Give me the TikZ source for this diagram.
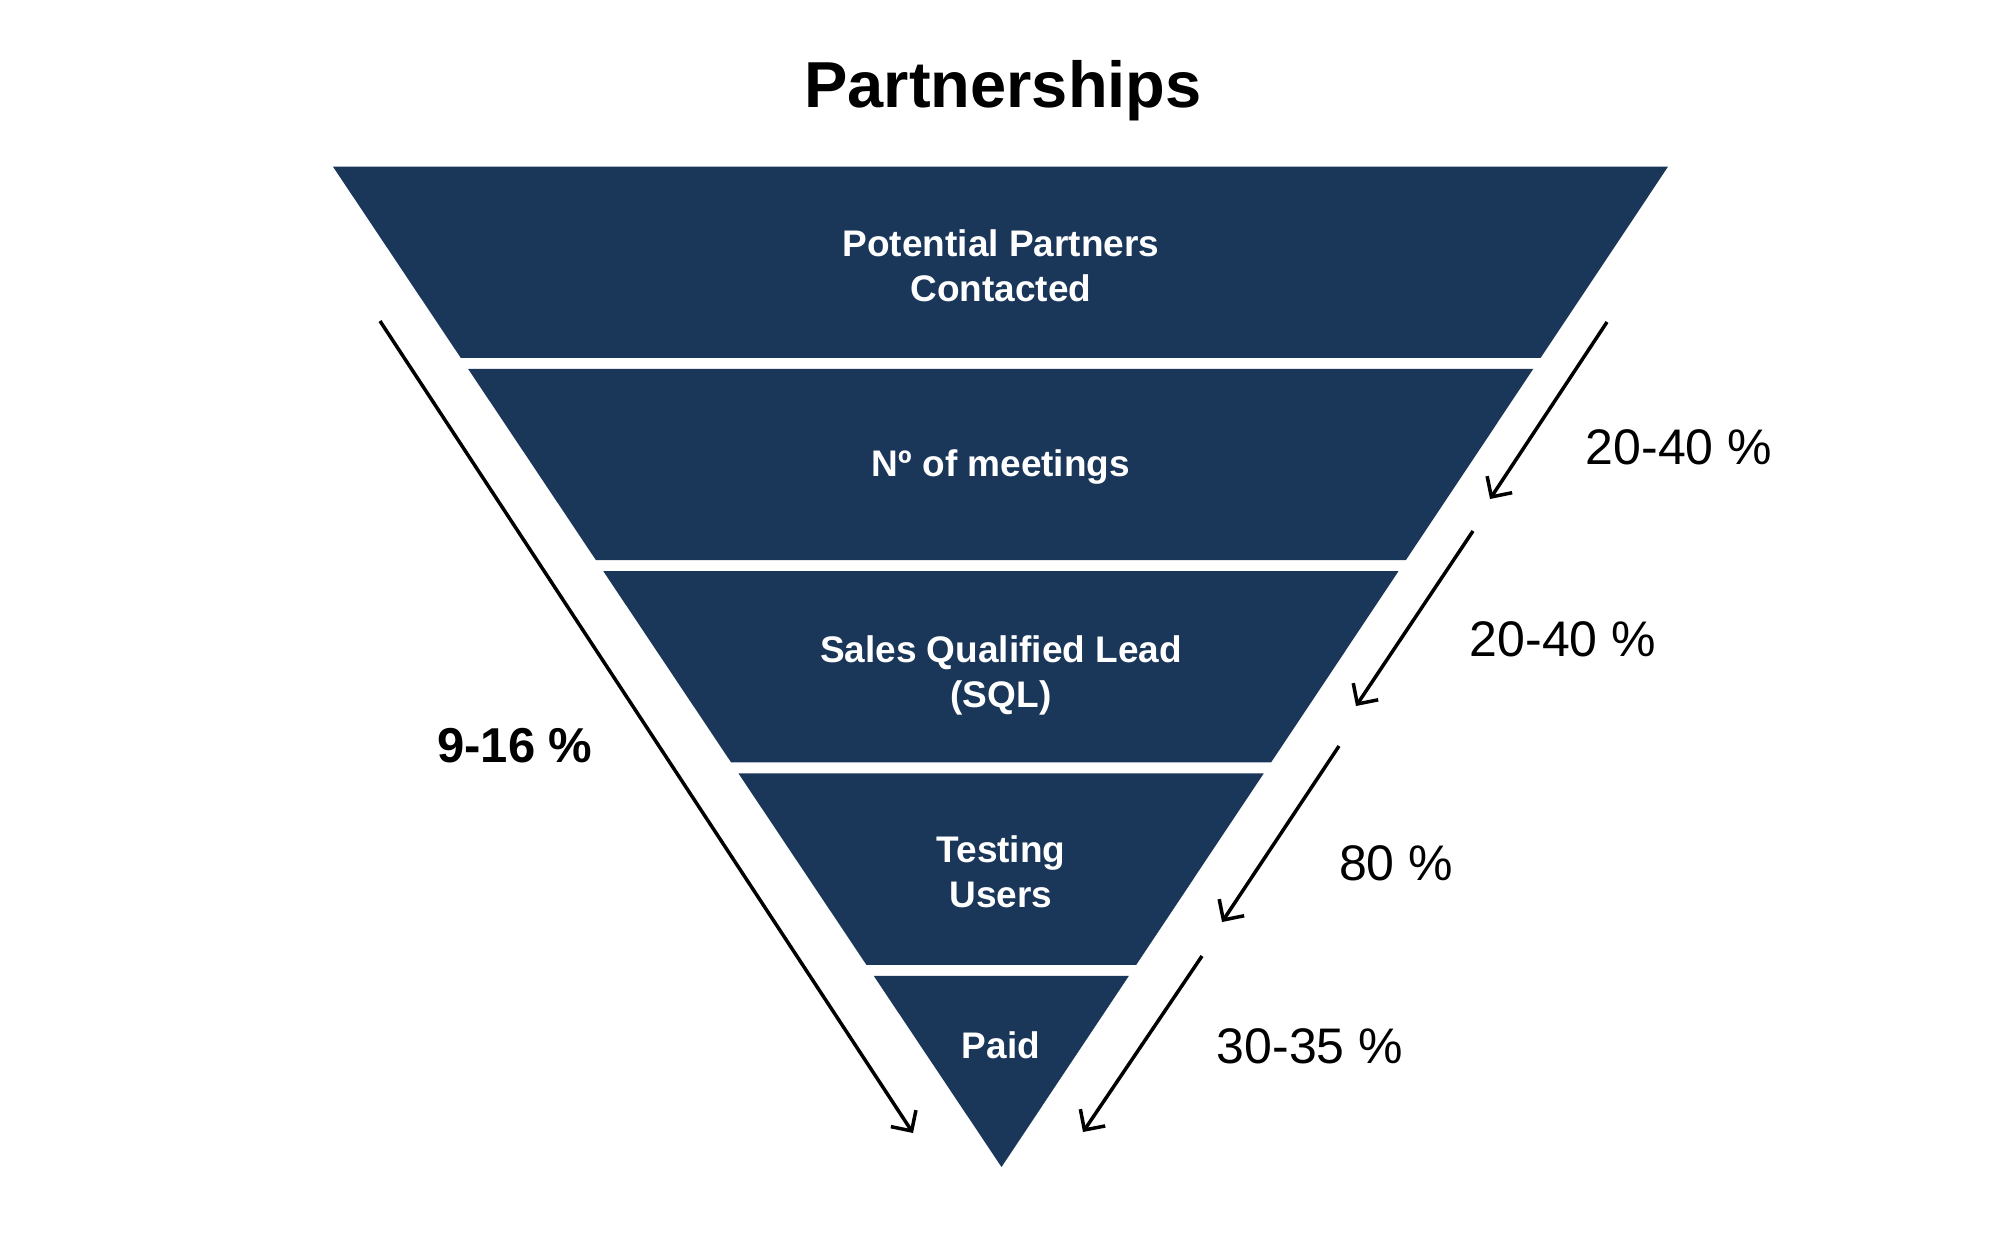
\documentclass[tikz,border=0pt]{standalone}
\usepackage{fontspec}
\setmainfont{Liberation Sans}
\usetikzlibrary{calc,arrows.meta}
\definecolor{navy}{HTML}{1A3759}
\begin{document}
\begin{tikzpicture}[x=1pt,y=-1pt,
  band/.style={fill=navy,draw=none},
  bandtext/.style={text=white,font=\bfseries\fontsize{37}{45}\selectfont,align=center,inner sep=0pt},
  pct/.style={font=\fontsize{50}{55}\selectfont,inner sep=0pt},
  flow/.style={line width=3.5pt,-{Straight Barb[length=15pt,width=30pt,line width=3.5pt]}}]
\useasboundingbox (0,0) rectangle (2000,1256);
\coordinate (TL) at (333,166.7);
\coordinate (TR) at (1668,166.7);
\coordinate (A) at (1001.5,1167);
\foreach \a/\b in {0/0.1912,0.2022/0.3934,0.4044/0.5956,0.6066/0.7978,0.8088/1}{
  \fill[band] ($(TL)!\a!(A)$) -- ($(TR)!\a!(A)$) -- ($(TR)!\b!(A)$) -- ($(TL)!\b!(A)$) -- cycle;
}
\node[font=\bfseries\fontsize{65}{70}\selectfont,inner sep=0pt] (title) at (1003,91) {Partnerships};
\node[bandtext] (b1) at (1001,266) {Potential Partners\\Contacted};
\node[bandtext] (b2) at (1001,467) {Nº of meetings};
\node[bandtext] (b3) at (1001,675) {Sales Qualified Lead\\(SQL)};
\node[bandtext] (b4) at (1001,872) {Testing\\Users};
\node[bandtext] (b5) at (1001,1045) {Paid};
\coordinate (l0) at (380,321);
\coordinate (l1) at (913,1133);
\coordinate (r1s) at (1607,322);
\coordinate (r1e) at (1490,499);
\coordinate (r2s) at (1473,531);
\coordinate (r2e) at (1356,706);
\coordinate (r3s) at (1339,746);
\coordinate (r3e) at (1222,922);
\coordinate (r4s) at (1202,956);
\coordinate (r4e) at (1083,1132);
\draw[flow] (l0) -- (l1);
\draw[flow] (r1s) -- (r1e);
\draw[flow] (r2s) -- (r2e);
\draw[flow] (r3s) -- (r3e);
\draw[flow] (r4s) -- (r4e);
\node[pct] (p1) at (1679,447) {20-40 \%};
\node[pct] (p2) at (1563,639) {20-40 \%};
\node[pct] (p3) at (1396,863) {80 \%};
\node[pct] (p4) at (1310,1046) {30-35 \%};
\node[pct,font=\bfseries\fontsize{49}{55}\selectfont] (pl) at (515,746) {9-16 \%};
\end{tikzpicture}
\end{document}
